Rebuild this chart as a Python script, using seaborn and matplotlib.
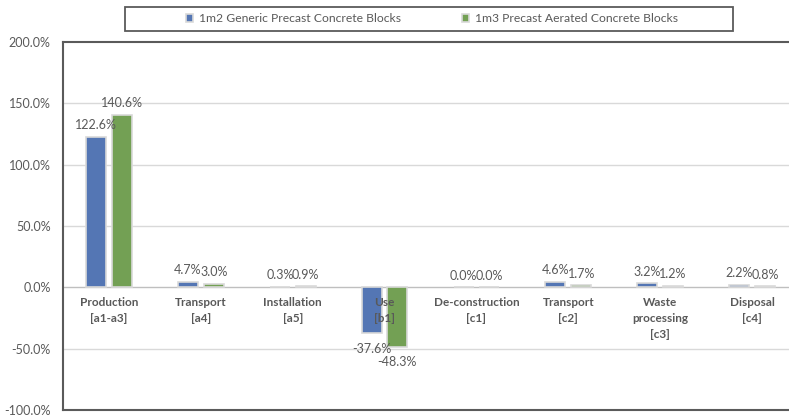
import pandas as pd
import seaborn as sns
import numpy as np
import matplotlib.pyplot as plt
import matplotlib.ticker as mtick
from matplotlib.patches import Rectangle

# data (percent)
stages = ["Production\n[a1-a3]", "Transport\n[a4]", "Installation\n[a5]", "Use\n[b1]",
          "De-construction\n[c1]", "Transport\n[c2]", "Waste\nprocessing\n[c3]", "Disposal\n[c4]"]
stage_keys = ["a1-a3", "a4", "a5", "b1", "c1", "c2", "c3", "c4"]
series_names = ["1m2 Generic Precast Concrete Blocks", "1m3 Precast Aerated Concrete Blocks"]
generic_vals = [122.6, 4.7, 0.3, -37.6, 0.0, 4.6, 3.2, 2.2]
aerated_vals = [140.6, 3.0, 0.9, -48.3, 0.0, 1.7, 1.2, 0.8]
yticks = [-100, -50, 0, 50, 100, 150, 200]

df = pd.DataFrame({
    "stage": stage_keys * 2,
    "series": [series_names[0]] * len(stage_keys) + [series_names[1]] * len(stage_keys),
    "value": generic_vals + aerated_vals,
})

sns.set_style("white")
plt.rcParams["font.family"] = ["Lato", "DejaVu Sans"]
grey = "#595959"

fig = plt.figure(figsize=(7.89, 4.16), dpi=100)
ax = fig.add_axes([63 / 789, 1 - 410 / 416, 735 / 789, 368 / 416])

sns.barplot(data=df, x="stage", y="value", hue="series", order=stage_keys,
            palette=["#4472C4", "#70AD47"], width=0.56, gap=0.22,
            edgecolor="#D9D9D9", linewidth=1.2, ax=ax, zorder=3)

# data labels, a bit more room below the negative bars
for cont in ax.containers:
    pos = ["{:.1f}%".format(v) if v >= 0 else "" for v in cont.datavalues]
    neg = ["{:.1f}%".format(v) if v < 0 else "" for v in cont.datavalues]
    ax.bar_label(cont, labels=pos, padding=4, fontsize=9, color=grey, zorder=5)
    ax.bar_label(cont, labels=neg, padding=7, fontsize=9, color=grey, zorder=5)

# category labels just under the zero line
for i, lab in enumerate(stages):
    ax.annotate(lab, xy=(i, 0), xytext=(0, -7), textcoords="offset points",
                ha="center", va="top", fontsize=8.5, fontweight="bold",
                color=grey, linespacing=1.55, zorder=6)

ax.set_ylim(-100, 200)
ax.set_xlim(-0.5, len(stage_keys) - 0.5)
ax.set_yticks(yticks)
ax.yaxis.set_major_formatter(mtick.FuncFormatter(lambda v, p: "{:.1f}%".format(v)))
ax.tick_params(axis="y", length=0, pad=9, labelsize=9, labelcolor=grey)
ax.set_xticks([])
ax.set_xlabel("")
ax.set_ylabel("")
for y in yticks[1:-1]:
    ax.axhline(y, color="#BFBFBF" if y == 0 else "#D9D9D9", linewidth=1, zorder=1)

for side in ["top", "left", "bottom"]:
    ax.spines[side].set_color("#5A5A5A")
    ax.spines[side].set_linewidth(1.5)
ax.spines["right"].set_visible(False)

# legend in its own box above the plot
handles, labels = ax.get_legend_handles_labels()
ax.get_legend().remove()
fig.legend(handles, labels, loc="center", bbox_to_anchor=(432 / 789, 1 - 19 / 416),
           ncol=2, frameon=False, fontsize=8.7, labelcolor=grey,
           handlelength=0.6, handleheight=0.6, handletextpad=0.5, columnspacing=5.0)
fig.patches.append(Rectangle((125 / 789, 1 - 31 / 416), 608 / 789, 24 / 416,
                             transform=fig.transFigure, fill=False,
                             edgecolor="#5A5A5A", linewidth=1.3))

fig.savefig("out.png", dpi=100)
